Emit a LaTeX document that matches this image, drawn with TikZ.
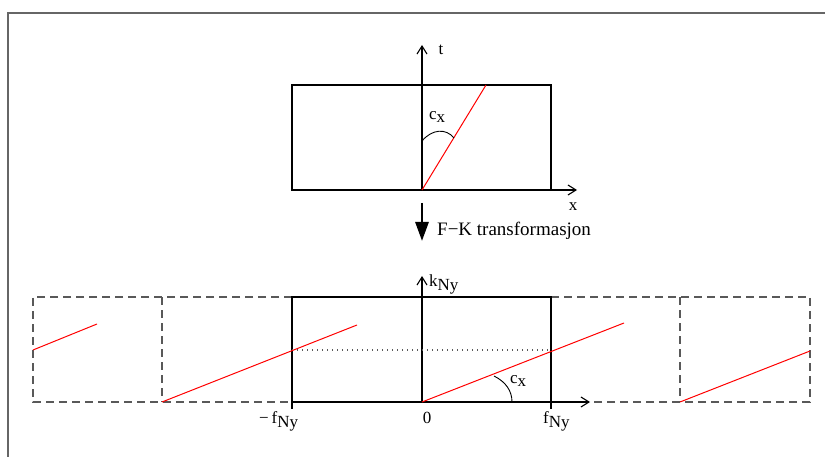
\documentclass[tikz,border=0pt]{standalone}
\usepackage{fontspec}
\setmainfont{Liberation Serif}
\usetikzlibrary{arrows.meta}
\newcommand{\lowsub}[1]{\raisebox{-0.5ex}{#1}}
\begin{document}
\begin{tikzpicture}[x=1pt, y=-1pt,
  every node/.style={font=\fontsize{17}{19}\selectfont, inner sep=0pt},
  box/.style={draw=black, line width=1.1pt},
  ghost/.style={draw=black!65, line width=1.1pt, dash pattern=on 8pt off 5pt},
  axis/.style={line width=1.1pt, -{Straight Barb[length=8pt,width=10pt]}},
  wave/.style={red, line width=1pt},
  guide/.style={black!65, line width=1.1pt, dash pattern=on 1pt off 4pt},
  bigarrow/.style={line width=2.8pt, -{Triangle[length=19pt,width=13pt]}},
  anglemark/.style={line width=0.9pt}
]
\useasboundingbox (0,0) rectangle (825,457);
% outer frame (cut off at right and bottom)
\draw[black!60, line width=1.2pt] (825,13) -- (8,13) -- (8,457);

% x-t domain
\coordinate (o1) at (422,190);
\coordinate (t1) at (422,45);
\coordinate (x1) at (577,190);
\draw[box] (292,85) rectangle (551,190);
\draw[axis] (400,190) -- (x1);
\draw[axis] (o1) -- (t1);
\draw[wave] (o1) -- (486,85);
\draw[anglemark] (422,141) .. controls (432,129) and (446,128) .. (454,138);
\node (tlab) at (441,50) {t};
\node (xlab) at (573,207) {x};
\node[anchor=west] (cx1) at (429,117) {c\lowsub{x}};

% transform arrow
\coordinate (fk1) at (422,203);
\coordinate (fk2) at (422,241);
\draw[bigarrow] (fk1) -- (fk2);
\node[anchor=west, font=\fontsize{19}{21}\selectfont] (fklab) at (437,231) {F\textminus K transformasjon};

% f-k domain, with the repeated copies
\coordinate (o2) at (422,402);
\coordinate (k2) at (422,276);
\coordinate (f2) at (590,402);
\draw[ghost] (292,297) -- (33,297) -- (33,402) -- (292,402);
\draw[ghost] (162,297) -- (162,402);
\draw[ghost] (551,297) -- (810,297) -- (810,402) -- (551,402);
\draw[ghost] (680,297) -- (680,402);
\draw[box] (292,297) rectangle (551,402);
\draw[line width=1.1pt] (292,402) -- (292,409);
\draw[line width=1.1pt] (551,402) -- (551,409);
\draw[axis] (292,402) -- (f2);
\draw[axis] (o2) -- (k2);
\draw[guide] (292,350) -- (551,350);
\draw[wave] (o2) -- (624,323);
\draw[wave] (162,402) -- (357,325);
\draw[wave] (680,402) -- (810,351);
\draw[wave] (33,350) -- (97,324);
\draw[anglemark] (494,376) .. controls (506,382) and (512,391) .. (512,402);
\node[anchor=west] (klab) at (429,284) {k\lowsub{Ny}};
\node[anchor=west] (cx2) at (510,381) {c\lowsub{x}};
\node (zero) at (427,418) {0};
\node[anchor=west] (fneg) at (259,421) {\textminus\,f\lowsub{Ny}};
\node[anchor=west] (fpos) at (543,421) {f\lowsub{Ny}};
\end{tikzpicture}
\end{document}
